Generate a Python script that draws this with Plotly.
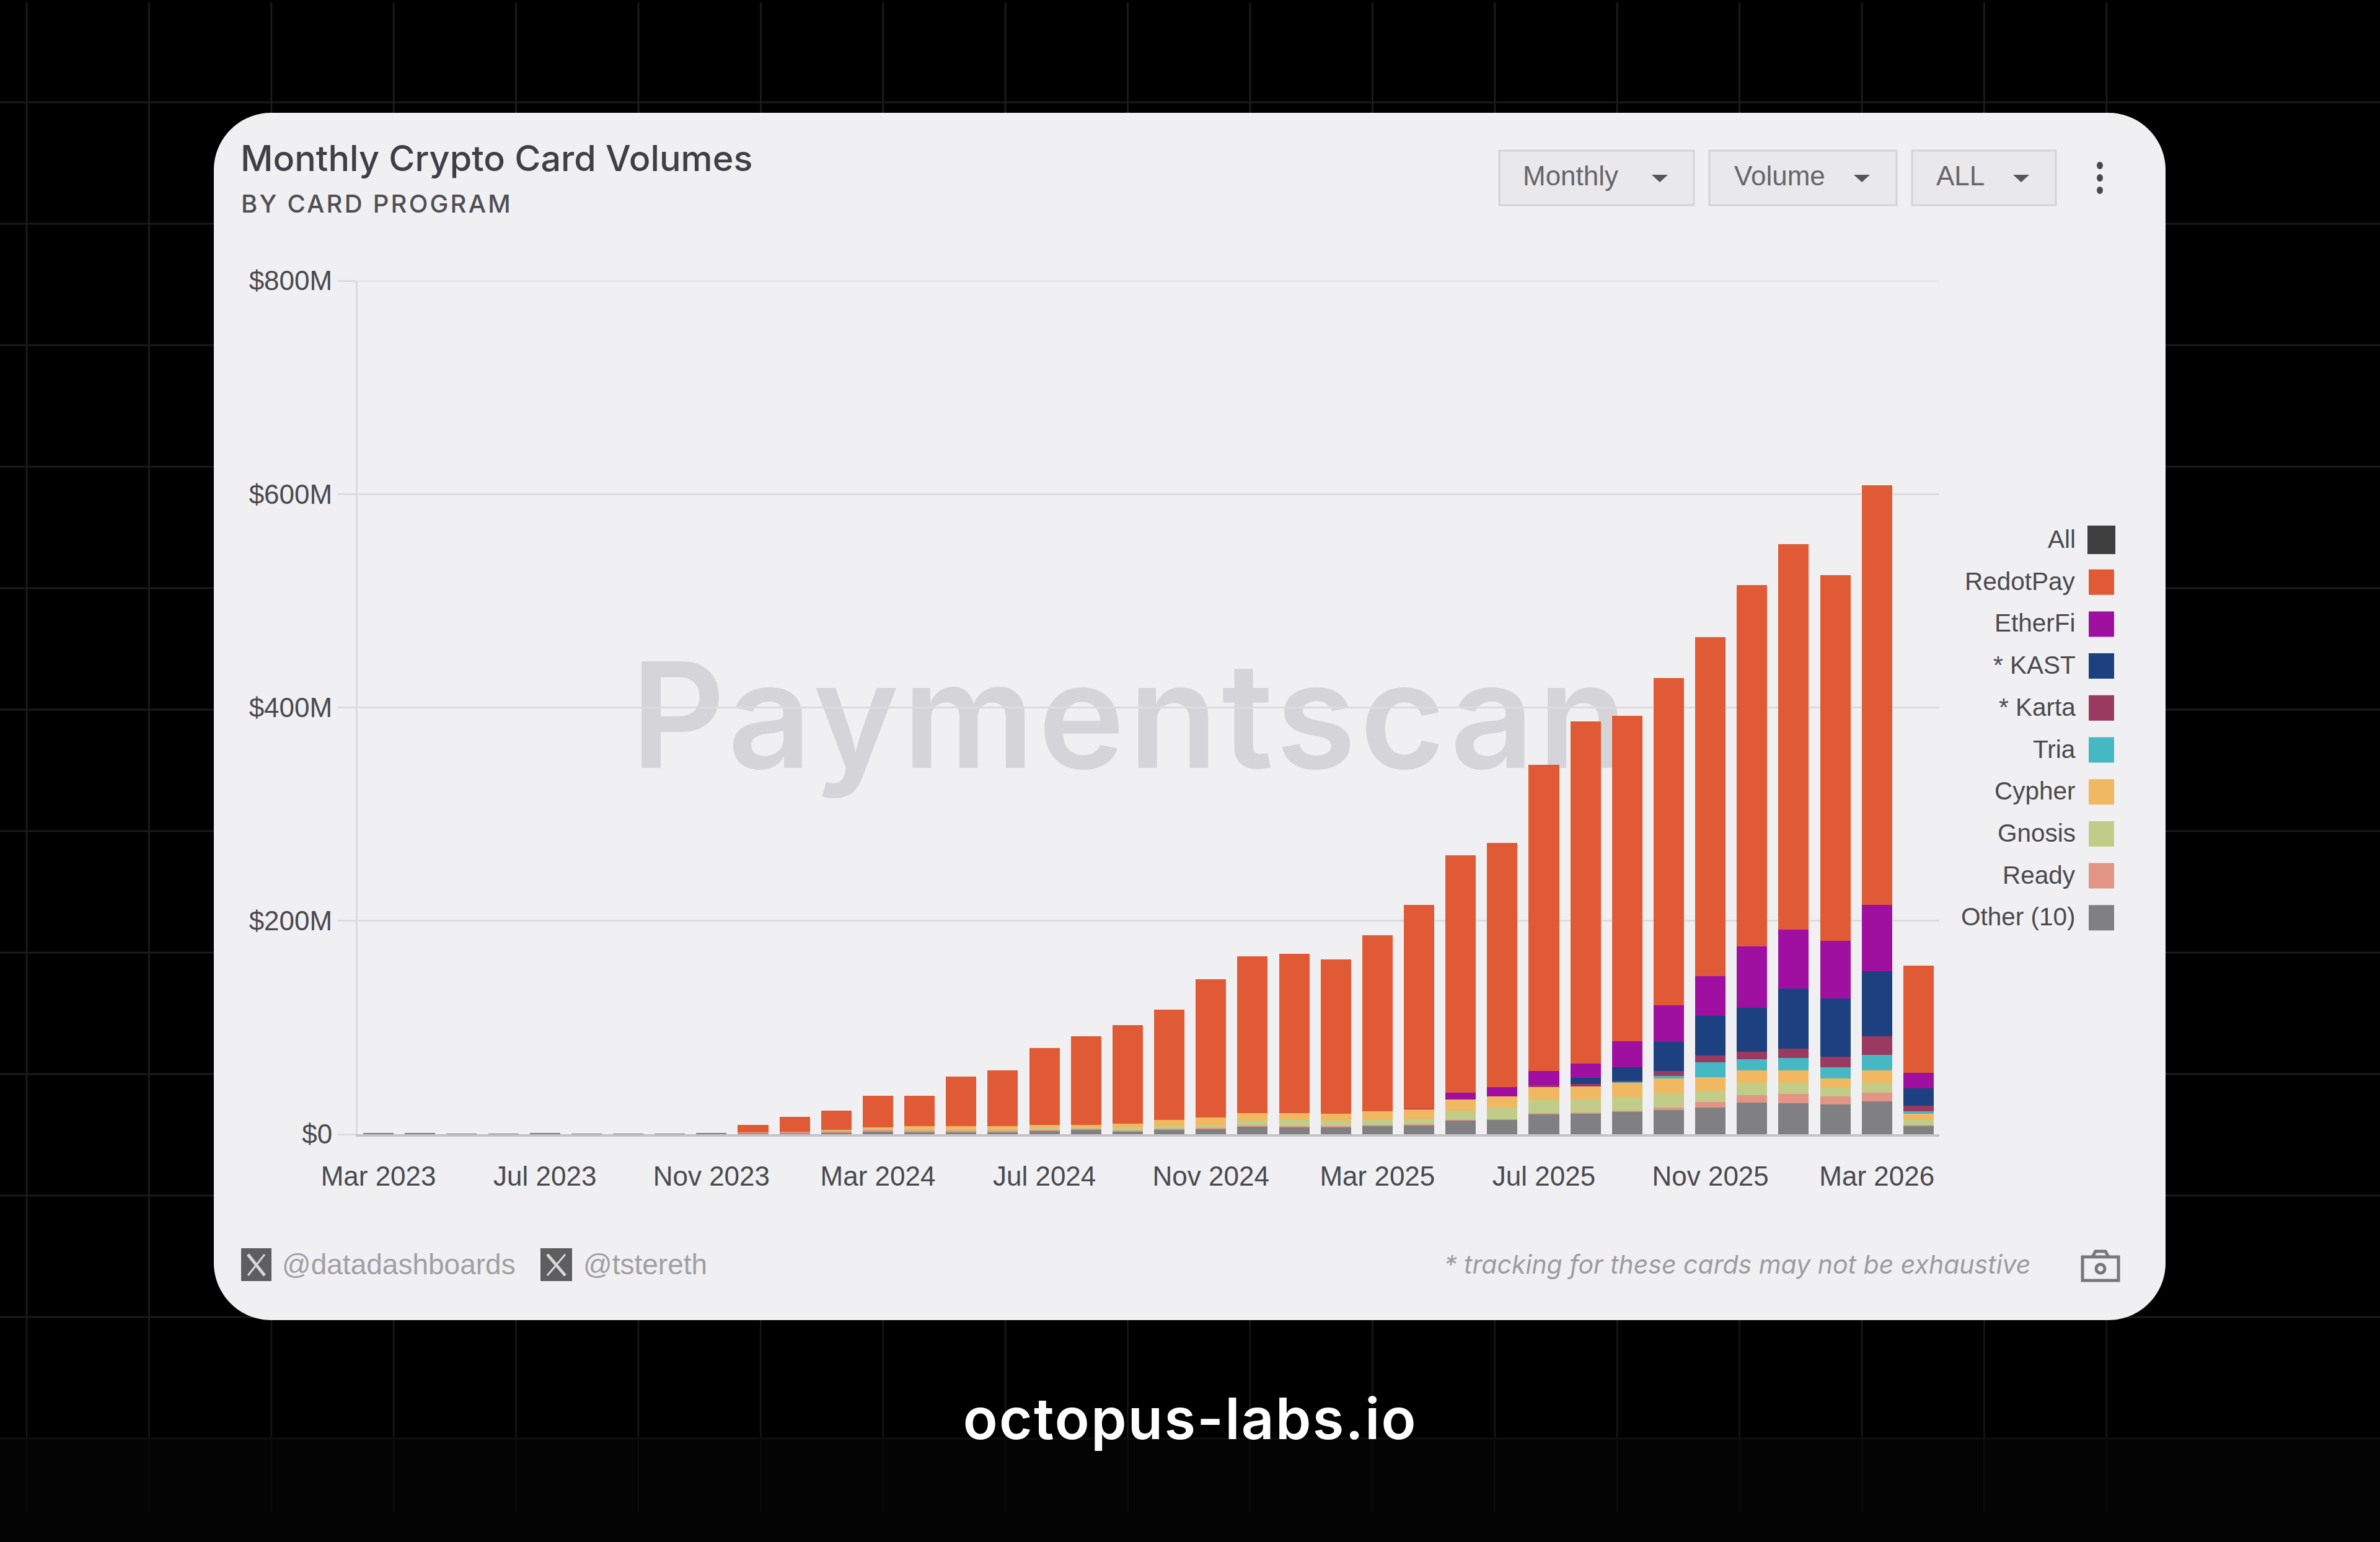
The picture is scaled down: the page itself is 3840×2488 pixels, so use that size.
import plotly.graph_objects as go

months = ["Mar 2023","Apr 2023","May 2023","Jun 2023","Jul 2023","Aug 2023","Sep 2023","Oct 2023","Nov 2023","Dec 2023",
          "Jan 2024","Feb 2024","Mar 2024","Apr 2024","May 2024","Jun 2024","Jul 2024","Aug 2024","Sep 2024","Oct 2024","Nov 2024","Dec 2024",
          "Jan 2025","Feb 2025","Mar 2025","Apr 2025","May 2025","Jun 2025","Jul 2025","Aug 2025","Sep 2025","Oct 2025","Nov 2025","Dec 2025",
          "Jan 2026","Feb 2026","Mar 2026","Apr 2026"]
tick_months = ["Mar 2023","Jul 2023","Nov 2023","Mar 2024","Jul 2024","Nov 2024","Mar 2025","Jul 2025","Nov 2025","Mar 2026"]
y_ticks = [0, 200, 400, 600, 800]
y_labels = ["$0", "$200M", "$400M", "$600M", "$800M"]

other = [0.8,0.8,0.5,0.5,0.8,0.5,0.4,0.3,1.0,0.5,0.8,1.0,2.3,2.3,2.3,2.3,2.9,4.6,2.5,4.6,4.8,6.8,6.8,6.8,8,8.7,13,13.6,19,19.6,21,22.6,24.7,29.9,29,27.7,31,7.7]
ready = [0,0,0,0,0,0,0,0,0,1.5,1.7,2.0,1.5,1,1,1,1.2,0.5,1,0.6,0.8,1.2,1.0,1.0,1.0,0.8,0.5,0.5,0.5,0.5,0.8,2.1,5.3,6.8,8.5,7.7,7.8,1.3]
gnosis = [0,0,0,0,0,0,0,0,0,0,0,0.5,1.2,1.6,1.6,1.6,2.0,1.5,2.7,2.2,3.1,5.0,5.8,5.2,5.0,5.0,8.5,10.6,12.5,12.3,13,12.8,10.5,11.3,10.5,8.6,9.2,5]
cypher = [0,0,0,0,0,0,0,0,0,0,0,0.8,1.2,2.9,2.9,2.9,2.6,2.1,3.5,5.8,6.8,6.8,6.2,6,7.7,9.1,10.4,10.7,12,12.4,13.5,15,13.2,12,12,8.5,11.7,5]
tria = [0]*30 + [0.3,2.1,13.7,10.4,11.6,10.5,14.9,2.7]
karta = [0]*28 + [2,2,1.5,4.4,6.4,6.8,8.4,9.5,17.4,5.2]
kast = [0]*29 + [6.2,12.5,27.6,37.2,41.3,56.5,54.5,60.7,16.1]
etherfi = [0]*25 + [0.5,6.8,8.6,13,13,24.6,34.1,37,57.5,55.5,54,62.3,14.6]
redotpay = [0,0,0,0,0,0,0,0,0,6.7,14,17.7,29.8,28.2,46.2,52.2,72.3,83.3,92.3,103.8,129.5,147.2,149,145,164.7,190.9,222,229,287,321,305,307,318,339,361,343,393,100.4]

series = [("Other (10)", other, "#808083"), ("Ready", ready, "#e29584"), ("Gnosis", gnosis, "#c0cc88"),
          ("Cypher", cypher, "#f0b860"), ("Tria", tria, "#45b8c4"), ("* Karta", karta, "#9b3a60"),
          ("* KAST", kast, "#1c4080"), ("EtherFi", etherfi, "#a010a0"), ("RedotPay", redotpay, "#e05a35")]
legend_rows = [("All", "#3f3f3f")] + [(n, c) for n, _, c in reversed(series)]

W, H = 3840, 2488
def X(p): return p / W
def Y(p): return 1 - p / H

INK = "#4a4a4e"
FONT = "Liberation Sans"
shapes, notes = [], []

def line(x0, y0, x1, y1, color, width=3):
    shapes.append(dict(type="line", xref="paper", yref="paper", x0=X(x0), x1=X(x1), y0=Y(y0), y1=Y(y1),
                       line=dict(color=color, width=width), layer="below"))
def rect(x0, y0, x1, y1, fill, border=None, width=0):
    shapes.append(dict(type="rect", xref="paper", yref="paper", x0=X(x0), x1=X(x1), y0=Y(y0), y1=Y(y1),
                       fillcolor=fill, line=dict(color=border or fill, width=width), layer="below"))
def path(points, fill=None, color=None, width=0):
    shapes.append(dict(type="path", xref="paper", yref="paper", path=points, fillcolor=fill or "rgba(0,0,0,0)",
                       line=dict(color=color or "rgba(0,0,0,0)", width=width), layer="below"))
def text(s, x, y, size, color=INK, anchor="left", family=FONT, **font):
    notes.append(dict(text=s, xref="paper", yref="paper", x=X(x), y=Y(y), xanchor=anchor, yanchor="middle",
                      showarrow=False, font=dict(size=size, color=color, family=family, **font)))
def pt(x, y): return f"{X(x):.6f},{Y(y):.6f}"

# page background grid
rect(0, 2322, W, H, "#040404")
for k in range(18):
    x = 43 + 197.4 * k
    line(x, 4, x, 2130, "#1b1b1b")
    line(x, 2130, x, 2322, "#141414")
    line(x, 2322, x, 2440, "#0b0b0b")
for k in range(11):
    y = 165 + 196 * k
    line(0, y, W, y, "#1b1b1b")
line(0, 2321, W, 2321, "#0f0f0f")

# card
l, t, r, b, c = 345, 182, 3494, 2130, 92
k = c * 0.45
path(f"M{pt(l+c,t)} L{pt(r-c,t)} C{pt(r-k,t)} {pt(r,t+k)} {pt(r,t+c)} L{pt(r,b-c)} C{pt(r,b-k)} {pt(r-k,b)} {pt(r-c,b)} "
     f"L{pt(l+c,b)} C{pt(l+k,b)} {pt(l,b-k)} {pt(l,b-c)} L{pt(l,t+c)} C{pt(l,t+k)} {pt(l+k,t)} {pt(l+c,t)} Z", fill="#f0f0f2")

# watermark behind the bars
shapes.append(dict(type="rect", xref="paper", yref="paper", x0=X(1012), x1=X(2712), y0=Y(1026), y1=Y(1266),
                   fillcolor="rgba(0,0,0,0)", line=dict(width=0), layer="below",
                   label=dict(text="Paymentscan", textposition="middle left",
                              font=dict(family="Inter", size=236, color="rgba(130,130,136,0.24)", weight=600))))

# titles
text("Monthly Crypto Card Volumes", 386, 255, 57.5, "#3f3f46", family="Inter", weight=500)
text("BY CARD PROGRAM", 608, 329, 40, "#4f4f55", anchor="center", family="Inter", weight=500)

# filter buttons
for label, x0, x1, tx, tri in [("Monthly", 2419, 2733, 2455, 2678), ("Volume", 2758, 3060, 2796, 3004), ("ALL", 3085, 3317, 3122, 3261)]:
    rect(x0, 243, x1, 331, "#e9e9eb", "#d4d4d6", 3)
    text(label, tx, 284, 44, "#66666a")
    path(f"M{pt(tri-13,282)} L{pt(tri+13,282)} L{pt(tri,294)} Z", fill="#55555a")
for y in (267, 287, 307):
    shapes.append(dict(type="circle", xref="paper", yref="paper", x0=X(3383), x1=X(3393), y0=Y(y-6), y1=Y(y+6),
                       fillcolor="#4a4a4e", line=dict(width=0), layer="below"))

# legend
for i, (name, color) in enumerate(legend_rows):
    y = 871 + 67.7 * i
    if name == "All":
        rect(3368, y - 23, 3413, y + 23, color)
    else:
        rect(3370, y - 20, 3411, y + 21, color)
    text(name, 3351, y - 1, 40.5, "#4a4a4e", anchor="right")

# footer
for x0, x1, label, tx, size in [(389, 438, "@datadashboards", 453, 46), (872, 923, "@tstereth", 939, 46)]:
    rect(x0, 2014, x1, 2067, "#5e5e60")
    line(x0 + 11, 2024, x1 - 11, 2058, "#d8d8d8", 5)
    line(x1 - 11, 2024, x0 + 11, 2058, "#d8d8d8", 3)
    text(label, tx, 2040, size, "#a0a0a3")
text("* tracking for these cards may not be exhaustive", 2328, 2040, 41, "#9c9c9f", family="Inter", style="italic")

# camera icon
rect(3360, 2028, 3418, 2066, "rgba(0,0,0,0)", "#77777a", 5)
path(f"M{pt(3376,2028)} L{pt(3381,2019)} L{pt(3397,2019)} L{pt(3402,2028)}", color="#77777a", width=5)
shapes.append(dict(type="circle", xref="paper", yref="paper", x0=X(3382), x1=X(3396), y0=Y(2040), y1=Y(2054),
                   fillcolor="rgba(0,0,0,0)", line=dict(color="#77777a", width=5), layer="below"))

# brand
text("octopus-labs.io", 1920, 2288, 92, "#ffffff", anchor="center", family="Inter", weight=600)

fig = go.Figure()
for name, values, color in series:
    fig.add_bar(x=months, y=values, name=name, marker=dict(color=color, line=dict(width=0)), showlegend=False)

shapes.append(dict(type="line", xref="x domain", yref="y", x0=0, x1=1, y0=800, y1=800,
                   line=dict(color="#dcdcde", width=3), layer="below"))

fig.update_layout(
    width=W, height=H, margin=dict(l=0, r=0, t=0, b=0, pad=0), barmode="stack", bargap=0.27,
    paper_bgcolor="#000000", plot_bgcolor="rgba(0,0,0,0)", showlegend=False,
    shapes=shapes, annotations=notes, font=dict(family=FONT, size=44, color=INK),
    xaxis=dict(domain=[X(577), X(3129)], type="category", categoryorder="array", categoryarray=months, automargin=False,
               range=[-0.5, 37.5], tickmode="array", tickvals=tick_months, ticktext=tick_months,
               ticks="outside", ticklen=26, tickcolor="rgba(0,0,0,0)", showgrid=False, tickangle=0,
               showline=True, linecolor="#c4c4c8", linewidth=4, zeroline=False, tickfont=dict(size=44, color=INK)),
    yaxis=dict(domain=[Y(1830), Y(453)], range=[0, 800], tickmode="array", tickvals=y_ticks, ticktext=y_labels, automargin=False,
               ticks="outside", ticklen=29, tickcolor="#dcdcde", tickwidth=3, gridcolor="#dcdcde", gridwidth=3,
               showline=True, linecolor="#dcdcde", linewidth=3, zeroline=False, tickfont=dict(size=44, color=INK)),
)

post = """
document.documentElement.style.overflow='hidden';
document.body.style.margin='0';
document.querySelectorAll('text').forEach(function(t){
  if(t.textContent==='BY CARD PROGRAM'){t.style.letterSpacing='3.2px';}
  if(t.textContent==='octopus-labs.io'){t.style.letterSpacing='2.3px';}
  if(t.textContent==='Paymentscan'){t.style.letterSpacing='6px';}
});
"""
fig.write_html("out.html", post_script=post, config=dict(displayModeBar=False))
